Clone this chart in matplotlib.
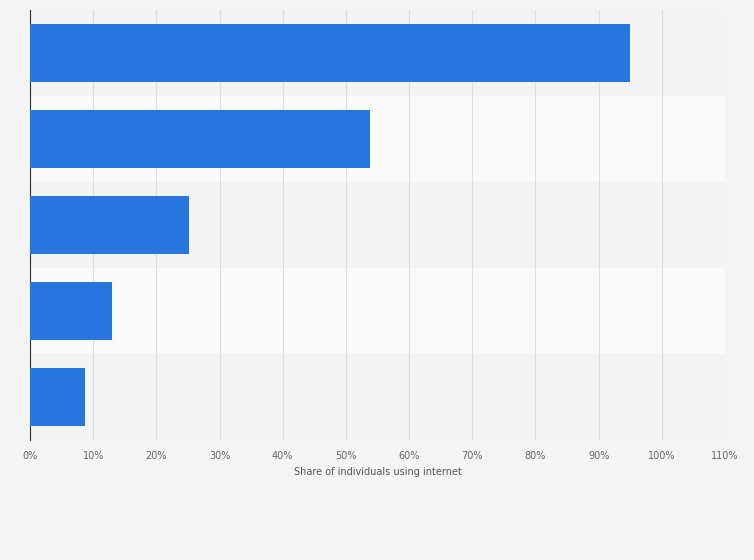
import matplotlib
matplotlib.use("Agg")
import matplotlib.pyplot as plt

categories = ["A", "B", "C", "D", "E"]
values = [94.9, 53.8, 25.1, 12.9, 8.7]
ticks = list(range(0, 111, 10))
tick_labels = [f"{t}%" for t in ticks]

fig = plt.figure(figsize=(7.54, 5.6), dpi=100, facecolor="#f4f4f4")
ax = fig.add_axes([0.0398, 0.214, 0.9217, 0.768])
ax.set_facecolor("#f4f4f4")
n = len(categories)
ys = list(range(n))
for i in ys:
    ax.axhspan(i - 0.5, i + 0.5, color="#f3f3f3" if i % 2 == 0 else "#fafafa", zorder=0)
ax.barh(ys, values, height=0.68, color="#2776dd", zorder=3)
ax.set_ylim(n - 0.5, -0.5)
ax.set_xlim(0, 110)
ax.set_xticks(ticks)
ax.set_xticklabels(tick_labels, fontsize=7, color="#666666")
ax.set_yticks([])
ax.grid(axis="x", color="#dddddd", linewidth=0.8, zorder=1)
for s in ["top", "right", "bottom"]:
    ax.spines[s].set_visible(False)
ax.spines["left"].set_color("#333333")
ax.tick_params(axis="x", length=0, pad=8)
ax.set_xlabel("Share of individuals using internet", fontsize=7, color="#555555", labelpad=4)
fig.savefig("out.png", dpi=100, facecolor=fig.get_facecolor())
